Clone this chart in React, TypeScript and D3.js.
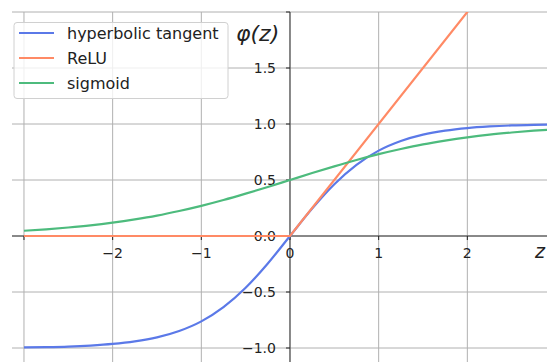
import { useEffect, useRef } from 'react'
import * as d3 from 'd3'

const Z = [-3, -2.75, -2.5, -2.25, -2, -1.75, -1.5, -1.25, -1, -0.75, -0.5, -0.25, 0, 0.25, 0.5, 0.75, 1, 1.25, 1.5, 1.75, 2, 2.25, 2.5, 2.75, 3]
const TANH = [-0.995, -0.992, -0.987, -0.978, -0.964, -0.941, -0.905, -0.848, -0.762, -0.635, -0.462, -0.245, 0, 0.245, 0.462, 0.635, 0.762, 0.848, 0.905, 0.941, 0.964, 0.978, 0.987, 0.992, 0.995]
const SIGMOID = [0.047, 0.06, 0.076, 0.095, 0.119, 0.148, 0.182, 0.223, 0.269, 0.321, 0.378, 0.438, 0.5, 0.562, 0.622, 0.679, 0.731, 0.777, 0.818, 0.852, 0.881, 0.905, 0.924, 0.94, 0.953]
const RELU_Z = [-3, 0, 3]
const RELU = [0, 0, 3]

const X_TICKS = [-3, -2, -1, 0, 1, 2, 3]
const X_LABELS = ['', '−2', '−1', '0', '1', '2', '']
const Y_TICKS = [-1, -0.5, 0, 0.5, 1, 1.5, 2]
const Y_LABELS = ['−1.0', '−0.5', '0.0', '0.5', '1.0', '1.5', '']

const SERIES = [
  { name: 'hyperbolic tangent', color: '#5b79e8', z: Z, v: TANH, smooth: true },
  { name: 'ReLU', color: '#ff8a65', z: RELU_Z, v: RELU, smooth: false },
  { name: 'sigmoid', color: '#4dbb7d', z: Z, v: SIGMOID, smooth: true },
]

export default function App() {
  const svgRef = useRef<SVGSVGElement>(null)

  useEffect(() => {
    if (!svgRef.current) return
    const svg = d3.select(svgRef.current)
    svg.selectAll('*').remove()

    const W = 547
    const H = 362
    const left = 12
    const top = 12
    const font = 'DejaVu Sans, sans-serif'

    const x = d3.scaleLinear().domain([-3.135, 3]).range([left, 556])
    const y = d3.scaleLinear().domain([-1.125, 2]).range([H, top])

    svg.append('defs').append('clipPath').attr('id', 'plot')
      .append('rect').attr('x', left).attr('y', top).attr('width', W - left).attr('height', H - top)

    // grid
    const grid = svg.append('g').attr('stroke', '#b0b0b0').attr('stroke-width', 1)
    X_TICKS.forEach((t) => {
      grid.append('line').attr('x1', x(t)).attr('x2', x(t)).attr('y1', top).attr('y2', H)
    })
    Y_TICKS.forEach((t) => {
      grid.append('line').attr('x1', left).attr('x2', W).attr('y1', y(t)).attr('y2', y(t))
    })

    // spines through origin
    svg.append('line').attr('x1', left).attr('x2', W).attr('y1', y(0)).attr('y2', y(0))
      .attr('stroke', '#3a3a3a').attr('stroke-width', 1)
    svg.append('line').attr('x1', x(0)).attr('x2', x(0)).attr('y1', top).attr('y2', H)
      .attr('stroke', '#3a3a3a').attr('stroke-width', 1)

    // ticks
    X_TICKS.forEach((t, i) => {
      svg.append('line').attr('x1', x(t)).attr('x2', x(t)).attr('y1', y(0)).attr('y2', y(0) + 4)
        .attr('stroke', '#222')
      if (X_LABELS[i]) {
        svg.append('text').attr('x', x(t)).attr('y', y(0) + 22)
          .attr('text-anchor', 'middle').attr('font-family', font).attr('font-size', 14)
          .attr('fill', '#222').text(X_LABELS[i])
      }
    })
    Y_TICKS.forEach((t, i) => {
      svg.append('line').attr('x1', x(0) - 4).attr('x2', x(0)).attr('y1', y(t)).attr('y2', y(t))
        .attr('stroke', '#222')
      if (Y_LABELS[i]) {
        svg.append('text').attr('x', x(0) - 14).attr('y', y(t) + 5)
          .attr('text-anchor', 'end').attr('font-family', font).attr('font-size', 14)
          .attr('fill', '#222').text(Y_LABELS[i])
      }
    })

    // axis names
    svg.append('text').attr('x', x(0) - 54).attr('y', 41)
      .attr('font-family', font).attr('font-style', 'italic').attr('font-size', 22)
      .attr('fill', '#222').text('φ(z)')
    svg.append('text').attr('x', 535).attr('y', y(0) + 22)
      .attr('font-family', font).attr('font-style', 'italic').attr('font-size', 19)
      .attr('fill', '#222').text('z')

    // curves
    const curves = svg.append('g').attr('clip-path', 'url(#plot)')
    SERIES.forEach((s) => {
      const line = d3.line<[number, number]>()
        .x((d) => x(d[0])).y((d) => y(d[1]))
        .curve(s.smooth ? d3.curveMonotoneX : d3.curveLinear)
      const pts = s.z.map((z, i) => [z, s.v[i]] as [number, number])
      curves.append('path').attr('d', line(pts))
        .attr('fill', 'none').attr('stroke', s.color).attr('stroke-width', 2.2)
    })

    // legend
    const lg = svg.append('g')
    lg.append('rect').attr('x', 14).attr('y', 22.5).attr('width', 214).attr('height', 76)
      .attr('rx', 3).attr('fill', 'white').attr('fill-opacity', 0.8)
      .attr('stroke', '#d0d0d0').attr('stroke-width', 1)
    SERIES.forEach((s, i) => {
      const ry = 33 + i * 25
      lg.append('line').attr('x1', 19).attr('x2', 54).attr('y1', ry).attr('y2', ry)
        .attr('stroke', s.color).attr('stroke-width', 2.2)
      lg.append('text').attr('x', 67).attr('y', ry + 6)
        .attr('font-family', font).attr('font-size', 16).attr('fill', '#222').text(s.name)
    })
  }, [])

  return (
    <div style={{ position: 'fixed', left: 0, top: 0 }}>
      <svg ref={svgRef} width={547} height={362} style={{ display: 'block', background: 'white' }} />
    </div>
  )
}
